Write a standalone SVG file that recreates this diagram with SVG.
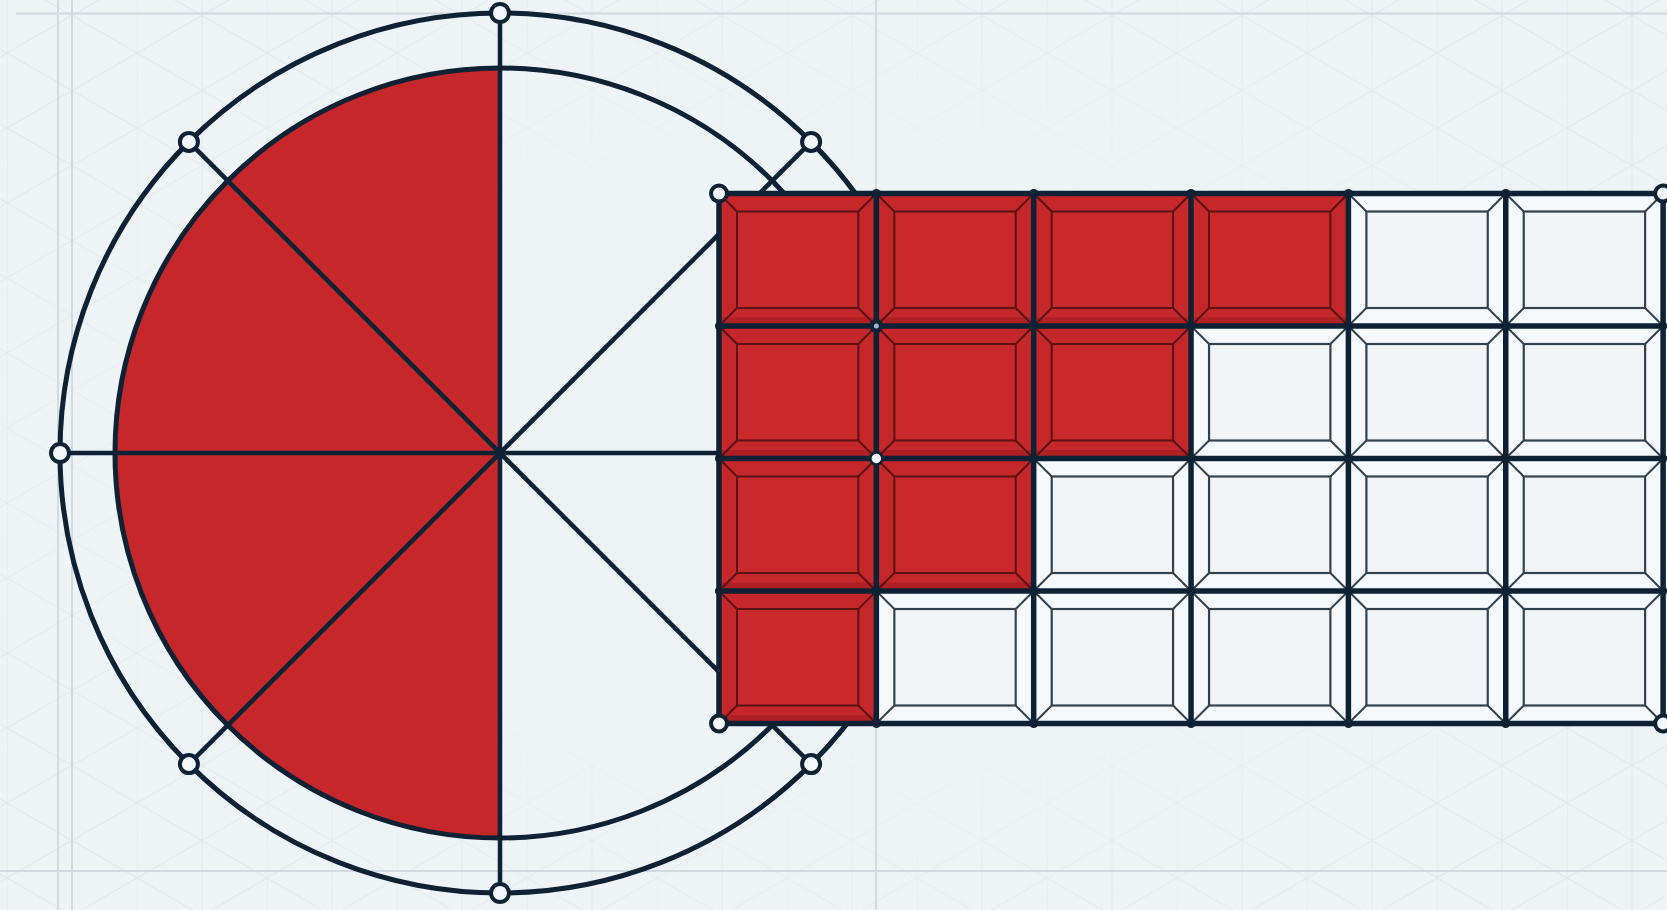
<svg xmlns="http://www.w3.org/2000/svg" xmlns:xlink="http://www.w3.org/1999/xlink" width="1667" height="910" viewBox="0 0 1667 910">
<style>
.ink{stroke:#0f2235;fill:none;stroke-linecap:round;}
.arc{stroke-width:5;}
.spoke{stroke-width:4.5;}
.node{fill:#f4f8fa;stroke:#0f2235;stroke-width:4;}
.gline{stroke:#0f2235;stroke-width:5.5;fill:none;}
.dot{fill:#0f2235;}
.bg-line{stroke:#d3dbe1;stroke-width:2;}
</style>
<defs>
<pattern id="iso" width="130" height="75" patternUnits="userSpaceOnUse" x="7" y="-22">
<path d="M0,0 L130,75 M0,75 L130,0 M0,0 V75 M65,0 V75" stroke="#e3e9ed" stroke-width="1.1" fill="none"/>
</pattern>
<radialGradient id="fade" cx="0.5" cy="0.5" r="0.6">
<stop offset="0.5" stop-color="#000"/>
<stop offset="1" stop-color="#fff"/>
</radialGradient>
<mask id="edgeMask">
<rect width="1667" height="910" fill="url(#fade)"/>
</mask>
<g id="cellRed">
<rect width="157.35" height="132.5" fill="#c5272a"/>
<rect x="0" y="124" width="157.35" height="8.5" fill="#9c1b1f" opacity="0.55"/>
<rect x="18" y="18" width="121.35" height="96.5" fill="#c9292b" stroke="#5a1316" stroke-width="2"/>
<path d="M0,0 L18,18 M157.35,0 L139.35,18 M0,132.5 L18,114.5 M157.35,132.5 L139.35,114.5" stroke="#5a1316" stroke-width="2" fill="none"/>
</g>
<g id="cellWhite">
<rect width="157.35" height="132.5" fill="#f6f9fb"/>
<rect x="18" y="18" width="121.35" height="96.5" fill="#f1f5f8" stroke="#34424e" stroke-width="2.2"/>
<path d="M0,0 L18,18 M157.35,0 L139.35,18 M0,132.5 L18,114.5 M157.35,132.5 L139.35,114.5" stroke="#34424e" stroke-width="2" fill="none"/>
</g>
</defs>

<g id="background">
<rect width="1667" height="910" fill="#eef3f6"/>
<rect width="1667" height="910" fill="url(#iso)" mask="url(#edgeMask)"/>
<line class="bg-line" x1="16" y1="13.5" x2="1667" y2="13.5"/>
<line class="bg-line" x1="0" y1="871" x2="1667" y2="871"/>
<line class="bg-line" x1="58" y1="0" x2="58" y2="910"/>
<line class="bg-line" x1="72" y1="0" x2="72" y2="910" stroke-width="1.5"/>
<line class="bg-line" x1="876" y1="0" x2="876" y2="910" stroke-width="1.6"/>
</g>

<g id="circle-diagram">
<path id="circle-red-half" d="M500,68 A385,385 0 0 0 500,838 Z" fill="#c5272a"/>
<circle id="inner-circle" class="ink arc" cx="500" cy="453" r="385"/>
<circle id="outer-circle" class="ink arc" cx="500" cy="453" r="440"/>
<g id="spokes">
<line class="ink spoke" x1="500" y1="13" x2="500" y2="893"/>
<line class="ink spoke" x1="60" y1="453" x2="940" y2="453"/>
<line class="ink spoke" x1="188.9" y1="141.9" x2="811.1" y2="764.1"/>
<line class="ink spoke" x1="188.9" y1="764.1" x2="811.1" y2="141.9"/>
<circle class="dot" cx="500" cy="453" r="4.5"/>
</g>
<g id="circle-nodes">
<circle id="node-top" class="node" cx="500" cy="13" r="9"/>
<circle id="node-bottom" class="node" cx="500" cy="893" r="9"/>
<circle id="node-left" class="node" cx="60" cy="453" r="9"/>
<circle id="node-ul" class="node" cx="188.9" cy="141.9" r="9"/>
<circle id="node-ll" class="node" cx="188.9" cy="764.1" r="9"/>
<circle id="node-ur" class="node" cx="811.1" cy="141.9" r="9"/>
<circle id="node-lr" class="node" cx="811.1" cy="764.1" r="9"/>
</g>
</g>

<g id="grid-cells">
<g id="cell-r0c0"><use xlink:href="#cellRed" x="719" y="193.5"/></g>
<g id="cell-r0c1"><use xlink:href="#cellRed" x="876.35" y="193.5"/></g>
<g id="cell-r0c2"><use xlink:href="#cellRed" x="1033.7" y="193.5"/></g>
<g id="cell-r0c3"><use xlink:href="#cellRed" x="1191.05" y="193.5"/></g>
<g id="cell-r0c4"><use xlink:href="#cellWhite" x="1348.4" y="193.5"/></g>
<g id="cell-r0c5"><use xlink:href="#cellWhite" x="1505.75" y="193.5"/></g>
<g id="cell-r1c0"><use xlink:href="#cellRed" x="719" y="326"/></g>
<g id="cell-r1c1"><use xlink:href="#cellRed" x="876.35" y="326"/></g>
<g id="cell-r1c2"><use xlink:href="#cellRed" x="1033.7" y="326"/></g>
<g id="cell-r1c3"><use xlink:href="#cellWhite" x="1191.05" y="326"/></g>
<g id="cell-r1c4"><use xlink:href="#cellWhite" x="1348.4" y="326"/></g>
<g id="cell-r1c5"><use xlink:href="#cellWhite" x="1505.75" y="326"/></g>
<g id="cell-r2c0"><use xlink:href="#cellRed" x="719" y="458.5"/></g>
<g id="cell-r2c1"><use xlink:href="#cellRed" x="876.35" y="458.5"/></g>
<g id="cell-r2c2"><use xlink:href="#cellWhite" x="1033.7" y="458.5"/></g>
<g id="cell-r2c3"><use xlink:href="#cellWhite" x="1191.05" y="458.5"/></g>
<g id="cell-r2c4"><use xlink:href="#cellWhite" x="1348.4" y="458.5"/></g>
<g id="cell-r2c5"><use xlink:href="#cellWhite" x="1505.75" y="458.5"/></g>
<g id="cell-r3c0"><use xlink:href="#cellRed" x="719" y="591"/></g>
<g id="cell-r3c1"><use xlink:href="#cellWhite" x="876.35" y="591"/></g>
<g id="cell-r3c2"><use xlink:href="#cellWhite" x="1033.7" y="591"/></g>
<g id="cell-r3c3"><use xlink:href="#cellWhite" x="1191.05" y="591"/></g>
<g id="cell-r3c4"><use xlink:href="#cellWhite" x="1348.4" y="591"/></g>
<g id="cell-r3c5"><use xlink:href="#cellWhite" x="1505.75" y="591"/></g>
</g>

<g id="grid-lines">
<rect class="gline" x="719" y="193.5" width="944.1" height="530"/>
<path class="gline" d="M876.35,193.5 V723.5 M1033.7,193.5 V723.5 M1191.05,193.5 V723.5 M1348.4,193.5 V723.5 M1505.75,193.5 V723.5 M719,326 H1663.1 M719,458.5 H1663.1 M719,591 H1663.1"/>
</g>

<g id="grid-nodes">
<g class="dot">
<circle cx="876.35" cy="193.5" r="4.5"/><circle cx="1033.7" cy="193.5" r="4.5"/><circle cx="1191.05" cy="193.5" r="4.5"/><circle cx="1348.4" cy="193.5" r="4.5"/><circle cx="1505.75" cy="193.5" r="4.5"/>
<circle cx="1033.7" cy="326" r="4.5"/><circle cx="1191.05" cy="326" r="4.5"/><circle cx="1348.4" cy="326" r="4.5"/><circle cx="1505.75" cy="326" r="4.5"/>
<circle cx="1033.7" cy="458.5" r="4.5"/><circle cx="1191.05" cy="458.5" r="4.5"/><circle cx="1348.4" cy="458.5" r="4.5"/><circle cx="1505.75" cy="458.5" r="4.5"/>
<circle cx="876.35" cy="591" r="4.5"/><circle cx="1033.7" cy="591" r="4.5"/><circle cx="1191.05" cy="591" r="4.5"/><circle cx="1348.4" cy="591" r="4.5"/><circle cx="1505.75" cy="591" r="4.5"/>
<circle cx="876.35" cy="723.5" r="4.5"/><circle cx="1033.7" cy="723.5" r="4.5"/><circle cx="1191.05" cy="723.5" r="4.5"/><circle cx="1348.4" cy="723.5" r="4.5"/><circle cx="1505.75" cy="723.5" r="4.5"/>
<circle cx="719" cy="326" r="4"/><circle cx="719" cy="458.5" r="4"/><circle cx="719" cy="591" r="4"/>
<circle cx="1663.1" cy="326" r="4"/><circle cx="1663.1" cy="458.5" r="4"/><circle cx="1663.1" cy="591" r="4"/>
</g>
<g id="node-r1c1">
<circle cx="876.35" cy="326" r="7" fill="#0f2235"/>
<circle cx="876.35" cy="326" r="2.5" fill="#9fb6c9"/>
</g>
<circle id="node-r2c1" cx="876.35" cy="458.5" r="6" fill="#f4f8fa" stroke="#0f2235" stroke-width="2.5"/>
<circle id="corner-tl" class="node" cx="719" cy="193.5" r="8"/>
<circle id="corner-bl" class="node" cx="719" cy="723.5" r="8"/>
<circle id="corner-tr" class="node" cx="1663.1" cy="193.5" r="8"/>
<circle id="corner-br" class="node" cx="1663.1" cy="723.5" r="8"/>
</g>
</svg>
